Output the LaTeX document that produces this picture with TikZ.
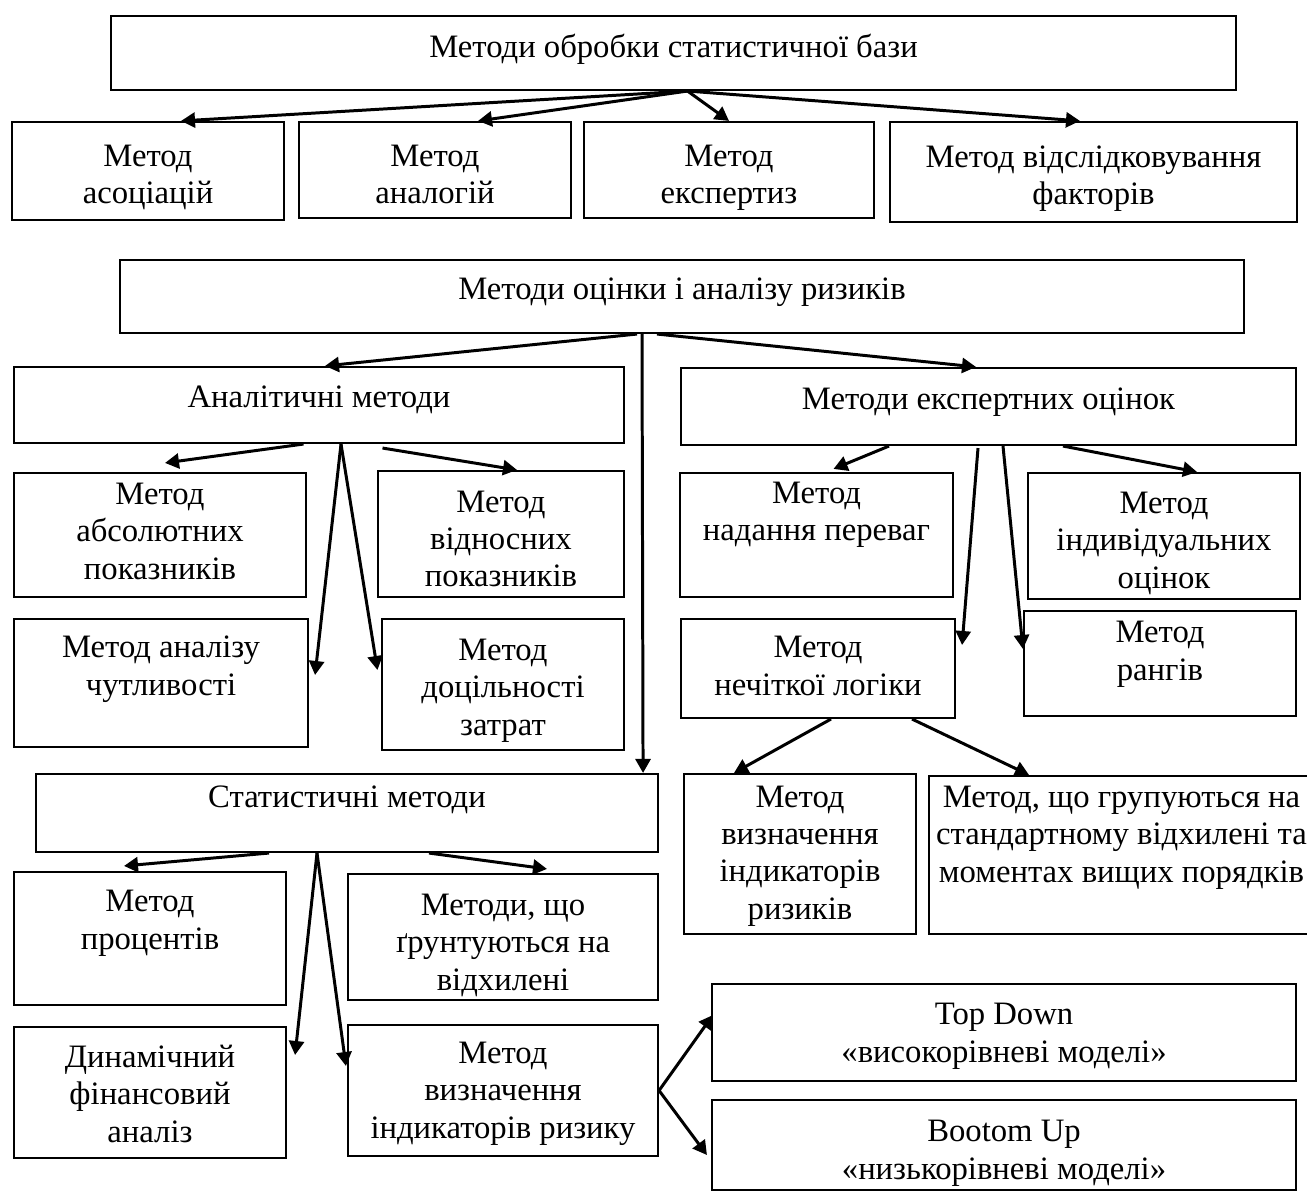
\documentclass[tikz,border=0pt]{standalone}
\usepackage{fontspec}
\setmainfont{Liberation Serif}
\usetikzlibrary{positioning,arrows.meta}

\begin{document}
\begin{tikzpicture}[x=0.1mm, y=-0.1mm,
            arrowstyle/.style={->, line width=0.85pt, >={Triangle[length=1.4mm, width=1.5mm]}}]
            % A box style, text sits at the top of the box
            \tikzstyle{boxnode} = [draw, rectangle, align=center, line width=0.6pt, inner xsep=2pt, inner ysep=0pt, font=\fontsize{9.3}{10.6}\selectfont]
            \useasboundingbox (0,0) rectangle (1307,1192);

            % Statistical base
            \node (B0) [boxnode, minimum width=112.5mm, text height=4.2mm, text depth=3.2mm] at (673.5,53) {Методи обробки статистичної бази};
            \node (R1) [boxnode, minimum width=27.2mm, text height=8.2mm, text depth=1.6mm] at (148,171) {Метод\\асоціацій};
            \node (R2) [boxnode, minimum width=27.2mm, text height=8.2mm, text depth=1.4mm] at (435,170) {Метод\\аналогій};
            \node (R3) [boxnode, minimum width=29mm, text height=8.2mm, text depth=1.4mm] at (729,170) {Метод\\експертиз};
            \node (R4) [boxnode, minimum width=40.7mm, text height=8.3mm, text depth=1.7mm] at (1093.5,172) {Метод відслідковування\\факторів};

            % Risk assessment
            \node (B1) [boxnode, minimum width=112.4mm, text height=4mm, text depth=3.3mm] at (682,296.5) {Методи оцінки і аналізу ризиків};
            \node (A) [boxnode, minimum width=61mm, text height=4.1mm, text depth=3.5mm] at (319,405) {Аналітичні методи};
            \node (E) [boxnode, minimum width=61.5mm, text height=4.2mm, text depth=3.5mm] at (988.5,406.5) {Методи експертних оцінок};

            % Analytic methods
            \node (A1) [boxnode, minimum width=29.2mm, text height=10.6mm, text depth=1.8mm] at (160,535) {Метод\\абсолютних\\показників};
            \node (A2) [boxnode, minimum width=24.6mm, text height=11.6mm, text depth=1mm] at (501,534) {Метод\\відносних\\показників};
            \node (A3) [boxnode, minimum width=29.4mm, text height=7.6mm, text depth=5.2mm] at (161,683) {Метод аналізу\\чутливості};
            \node (A4) [boxnode, minimum width=24.2mm, text height=11.6mm, text depth=1.5mm] at (503,684.5) {Метод\\доцільності\\затрат};

            % Expert methods
            \node (E1) [boxnode, minimum width=27.3mm, text height=6.8mm, text depth=5.6mm] at (816.5,535) {Метод\\надання переваг};
            \node (E2) [boxnode, minimum width=27.2mm, text height=11.5mm, text depth=1.1mm] at (1164,536) {Метод\\індивідуальних\\оцінок};
            \node (E3) [boxnode, minimum width=27.4mm, text height=7.6mm, text depth=2.3mm] at (818,668.5) {Метод\\нечіткої логіки};
            \node (E4) [boxnode, minimum width=27.2mm, text height=6.9mm, text depth=3.6mm] at (1160,663.5) {Метод\\рангів};
            \node (E5) [boxnode, minimum width=23.2mm, text height=14.5mm, text depth=1.5mm] at (800,854) {Метод\\визначення\\індикаторів\\ризиків};
            \node (E6) [boxnode, minimum width=36.7mm, text height=10.6mm, text depth=5.2mm] at (1121.5,855) {Метод, що групуються на\\стандартному відхилені та\\моментах вищих порядків};

            % Statistical methods
            \node (S) [boxnode, minimum width=62.2mm, text height=3.3mm, text depth=4.5mm] at (347,813) {Статистичні методи};
            \node (S1) [boxnode, minimum width=27.2mm, text height=7.7mm, text depth=5.6mm] at (150,938.5) {Метод\\процентів};
            \node (S2) [boxnode, minimum width=31mm, text height=11.6mm, text depth=1mm] at (503,937) {Методи, що\\ґрунтуються на\\відхилені};
            \node (S3) [boxnode, minimum width=27.2mm, text height=11.5mm, text depth=1.6mm] at (150,1092.5) {Динамічний\\фінансовий\\аналіз};
            \node (S4) [boxnode, minimum width=31mm, text height=11.3mm, text depth=1.8mm] at (503,1090.5) {Метод\\визначення\\індикаторів ризику};
            \node (T1) [boxnode, minimum width=58.4mm, text height=7.8mm, text depth=1.9mm] at (1004,1032.5) {Top Down\\«високорівневі моделі»};
            \node (T2) [boxnode, minimum width=58.4mm, text height=7.9mm, text depth=1.1mm] at (1004,1145) {Bootom Up\\«низькорівневі моделі»};

            % Arrows of the first tree
            \draw [arrowstyle] ([xshift=1.4mm]B0.south) -- ([xshift=3.3mm]R1.north);
            \draw [arrowstyle] ([xshift=1.4mm]B0.south) -- ([xshift=4.3mm]R2.north);
            \draw [arrowstyle] ([xshift=1.4mm]B0.south) -- (R3.north);
            \draw [arrowstyle] ([xshift=1.4mm]B0.south) -- ([xshift=-1.35mm]R4.north);

            % Arrows of the second tree
            \draw [arrowstyle] ([xshift=-4.5mm]B1.south) -- ([xshift=0.6mm]A.north);
            \draw [arrowstyle] ([xshift=-2.5mm]B1.south) -- ([xshift=-1.25mm]E.north);
            \draw [arrowstyle] ([xshift=-4mm]B1.south) -- ([xshift=-1.6mm]S.north east);

            \draw [arrowstyle] ([xshift=-1.55mm]A.south) -- ([xshift=0.5mm,yshift=0.9mm]A1.north);
            \draw [arrowstyle] ([xshift=6.35mm,yshift=-0.4mm]A.south) -- ([xshift=1.6mm]A2.north);
            \draw [arrowstyle] ([xshift=2.2mm]A.south) -- ([xshift=0.6mm,yshift=0.8mm]A3.east);
            \draw [arrowstyle] ([xshift=2.2mm]A.south) -- ([xshift=-0.35mm,yshift=1.45mm]A4.west);

            \draw [arrowstyle] ([xshift=-9.95mm]E.south) -- ([xshift=1.7mm,yshift=0.3mm]E1.north);
            \draw [arrowstyle] ([xshift=7.45mm]E.south) -- ([xshift=3.3mm]E2.north);
            \draw [arrowstyle] ([xshift=-1.05mm,yshift=-0.2mm]E.south) -- ([xshift=0.6mm,yshift=2.35mm]E3.east);
            \draw [arrowstyle] ([xshift=1.45mm]E.south) -- ([yshift=1.45mm]E4.west);
            \draw [arrowstyle] ([xshift=1.3mm]E3.south) -- ([xshift=-6.6mm]E5.north);
            \draw [arrowstyle] ([xshift=9.4mm]E3.south) -- ([xshift=-9.25mm]E6.north);

            \draw [arrowstyle] ([xshift=-7.8mm]S.south) -- ([xshift=-2.6mm,yshift=0.5mm]S1.north);
            \draw [arrowstyle] ([xshift=8.2mm]S.south) -- ([xshift=4.4mm,yshift=0.4mm]S2.north);
            \draw [arrowstyle] ([xshift=-3mm]S.south) -- ([xshift=0.8mm,yshift=3.75mm]S3.east);
            \draw [arrowstyle] ([xshift=-3mm]S.south) -- ([xshift=-0.1mm,yshift=2.45mm]S4.west);
            \draw [arrowstyle] (S4.east) -- ([xshift=0.2mm,yshift=1.75mm]T1.west);
            \draw [arrowstyle] (S4.east) -- ([xshift=-0.4mm,yshift=-1mm]T2.west);
        \end{tikzpicture}
\end{document}
